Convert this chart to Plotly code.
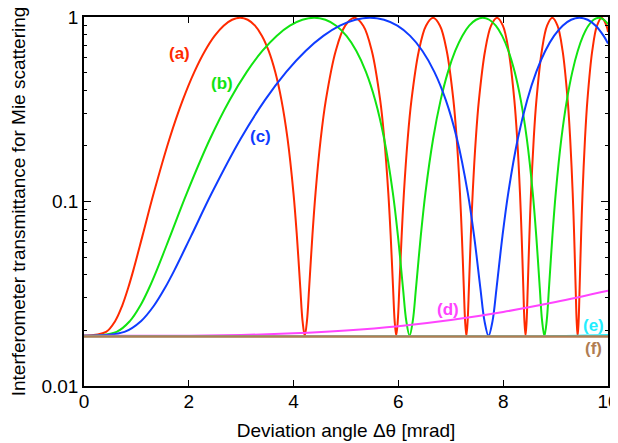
import math
import plotly.graph_objects as go

# ---------------- data ----------------
red_x = [0, 0.4213, 0.5958, 0.7297, 0.8426, 0.9421, 1.1147, 1.3323, 1.6317, 1.8841, 2.1065, 2.3076, 2.4925, 2.6646,
         2.8262, 2.9791, 3.1245, 3.2634, 3.3967, 3.5249, 3.6486, 3.7683, 3.8843, 3.9969, 4.0630, 4.1280, 4.1707,
         4.2131, 4.2550, 4.2965, 4.3580, 4.4187, 4.5180, 4.6152, 4.8036, 4.9850, 5.1599, 5.3292, 5.4932, 5.6524,
         5.7304, 5.8073, 5.8530, 5.8983, 5.9283,
         5.9582, 5.9879, 6.0175, 6.0616, 6.1053, 6.1776, 6.2490, 6.3895, 6.5269, 6.6615, 6.7934, 6.9228, 7.0498,
         7.1125, 7.1746, 7.2116, 7.2484, 7.2729,
         7.2973, 7.3216, 7.3457, 7.3819, 7.4179, 7.4775, 7.5366, 7.6534, 7.7685, 7.8819, 7.9937, 8.1040, 8.2128,
         8.2667, 8.3201, 8.3521, 8.3839, 8.4050,
         8.4261, 8.4472, 8.4682, 8.4996, 8.5308, 8.5827, 8.6342, 8.7364, 8.8374, 8.9373, 9.0360, 9.1337, 9.2304,
         9.2783, 9.3260, 9.3545, 9.3829, 9.4018,
         9.4207, 9.4395, 9.4583, 9.4864, 9.5144, 9.5610, 9.6073, 9.6992, 9.7903, 9.8805, 9.9700, 10.0]
red_y = [0.0187, 0.01966, 0.02253, 0.0273, 0.03396, 0.04247, 0.06492, 0.11145, 0.21889, 0.35428, 0.50435, 0.65442,
         0.7898, 0.89725, 0.96623, 0.99, 0.96623, 0.89725, 0.7898, 0.65442, 0.50435, 0.35428, 0.21889, 0.11145,
         0.06492, 0.03396, 0.02253,
         0.0187, 0.02253, 0.03396, 0.06492, 0.11145, 0.21889, 0.35428, 0.65442, 0.89725, 0.99, 0.89725, 0.65442,
         0.35428, 0.21889, 0.11145, 0.06492, 0.03396, 0.02253,
         0.0187, 0.02253, 0.03396, 0.06492, 0.11145, 0.21889, 0.35428, 0.65442, 0.89725, 0.99, 0.89725, 0.65442,
         0.35428, 0.21889, 0.11145, 0.06492, 0.03396, 0.02253,
         0.0187, 0.02253, 0.03396, 0.06492, 0.11145, 0.21889, 0.35428, 0.65442, 0.89725, 0.99, 0.89725, 0.65442,
         0.35428, 0.21889, 0.11145, 0.06492, 0.03396, 0.02253,
         0.0187, 0.02253, 0.03396, 0.06492, 0.11145, 0.21889, 0.35428, 0.65442, 0.89725, 0.99, 0.89725, 0.65442,
         0.35428, 0.21889, 0.11145, 0.06492, 0.03396, 0.02253,
         0.0187, 0.02253, 0.03396, 0.06492, 0.11145, 0.21889, 0.35428, 0.65442, 0.89725, 0.99, 0.89725, 0.8282]

green_x = [0, 0.6213, 0.8786, 1.0761, 1.2426, 1.3892, 1.6438, 1.9647, 2.4062, 2.7785, 3.1064, 3.4029, 3.6756, 3.9294,
           4.1677, 4.3932, 4.6076, 4.8125, 5.0090, 5.1981, 5.3805, 5.5570, 5.7280, 5.8941, 5.9915, 6.0874, 6.1504,
           6.2129, 6.2747, 6.3359, 6.4267, 6.5161, 6.6626, 6.8059, 6.9462, 7.0838, 7.2187, 7.3512, 7.4813, 7.6092,
           7.7350, 7.8588, 7.9806, 8.1006, 8.2189, 8.3355, 8.4504, 8.5639, 8.6312, 8.6980, 8.7423,
           8.7864, 8.8302, 8.8738, 8.9388, 9.0033, 9.1099, 9.2152, 9.3193, 9.4223, 9.5242, 9.6250, 9.7247, 9.8234,
           9.9212, 10.0]
green_y = [0.0187, 0.01966, 0.02253, 0.0273, 0.03396, 0.04247, 0.06492, 0.11145, 0.21889, 0.35428, 0.50435, 0.65442,
           0.7898, 0.89725, 0.96623, 0.99, 0.96623, 0.89725, 0.7898, 0.65442, 0.50435, 0.35428, 0.21889, 0.11145,
           0.06492, 0.03396, 0.02253,
           0.0187, 0.02253, 0.03396, 0.06492, 0.11145, 0.21889, 0.35428, 0.50435, 0.65442, 0.7898, 0.89725, 0.96623,
           0.99, 0.96623, 0.89725, 0.7898, 0.65442, 0.50435, 0.35428, 0.21889, 0.11145, 0.06492, 0.03396, 0.02253,
           0.0187, 0.02253, 0.03396, 0.06492, 0.11145, 0.21889, 0.35428, 0.50435, 0.65442, 0.7898, 0.89725, 0.96623,
           0.99, 0.96623, 0.9133]

blue_x = [0, 0.7720, 1.0918, 1.3372, 1.5440, 1.7263, 2.0426, 2.4413, 2.9900, 3.4525, 3.8601, 4.2285, 4.5673, 4.8826,
          5.1788, 5.4589, 5.7254, 5.9800, 6.2241, 6.4591, 6.6858, 6.9051, 7.1176, 7.3239, 7.4450, 7.5641, 7.6425,
          7.7201, 7.7969, 7.8730, 7.9857, 8.0969, 8.2789, 8.4570, 8.6313, 8.8023, 8.9700, 9.1346, 9.2962, 9.4551,
          9.6115, 9.7653, 9.9167, 10.0]
blue_y = [0.0187, 0.01966, 0.02253, 0.0273, 0.03396, 0.04247, 0.06492, 0.11145, 0.21889, 0.35428, 0.50435, 0.65442,
          0.7898, 0.89725, 0.96623, 0.99, 0.96623, 0.89725, 0.7898, 0.65442, 0.50435, 0.35428, 0.21889, 0.11145,
          0.06492, 0.03396, 0.02253,
          0.0187, 0.02253, 0.03396, 0.06492, 0.11145, 0.21889, 0.35428, 0.50435, 0.65442, 0.7898, 0.89725, 0.96623,
          0.99, 0.96623, 0.89725, 0.7898, 0.7174]

magenta_x = [0, 1, 2, 3, 4, 5, 6, 7, 8, 9, 10]
magenta_y = [0.0187, 0.0187, 0.01874, 0.0189, 0.0193, 0.0200, 0.0211, 0.0228, 0.0252, 0.0285, 0.0328]

cyan_x = [0, 2, 4, 6, 8, 9, 10]
cyan_y = [0.0186, 0.0186, 0.0186, 0.0186, 0.0186, 0.01866, 0.0189]

brown_x = [0, 10]
brown_y = [0.01855, 0.01855]

labels = ["(a)", "(b)", "(c)", "(d)", "(e)", "(f)"]
label_x = [1.83, 2.63, 3.37, 6.94, 9.73, 9.73]
label_y = [0.638, 0.4355, 0.2238, 0.02595, 0.02125, 0.01595]

x_ticks = [0, 2, 4, 6, 8, 10]
y_ticks = [0.01, 0.1, 1]
y_ticktext = ["0.01", "0.1", "1"]
y_minor = [0.02, 0.03, 0.04, 0.05, 0.06, 0.07, 0.08, 0.09, 0.2, 0.3, 0.4, 0.5, 0.6, 0.7, 0.8, 0.9]

# ---------------- styles ----------------
RED = "#ff2a00"
GREEN = "#11e411"
BLUE = "#0f3cff"
MAGENTA = "#ff44ff"
CYAN = "#22eeff"
BROWN = "#b07d52"
colors = [RED, GREEN, BLUE, MAGENTA, CYAN, BROWN]

fig = go.Figure()
series = [
    (red_x, red_y, RED, 2, "spline"),
    (green_x, green_y, GREEN, 2, "spline"),
    (blue_x, blue_y, BLUE, 2, "spline"),
    (magenta_x, magenta_y, MAGENTA, 2, "spline"),
    (cyan_x, cyan_y, CYAN, 2, "spline"),
    (brown_x, brown_y, BROWN, 2.5, "linear"),
]
for xs, ys, c, w, shp in series:
    fig.add_trace(go.Scatter(x=xs, y=ys, mode="lines",
                             line=dict(color=c, width=w, shape=shp, smoothing=1 if shp == "spline" else None),
                             hoverinfo="skip", showlegend=False))

for t, lx, ly, c in zip(labels, label_x, label_y, colors):
    fig.add_annotation(x=lx, y=math.log10(ly), text="<b>%s</b>" % t, showarrow=False,
                       font=dict(size=17, color=c, family="Liberation Sans, Arial, sans-serif"))

FONT = "Liberation Sans, Arial, Helvetica, sans-serif"
# the page body has an 8px margin, so the figure is drawn 8px in from the window edges
fig.update_layout(
    width=610, height=435,
    margin=dict(l=76, r=10, t=9, b=57, autoexpand=False),
    plot_bgcolor="white", paper_bgcolor="white",
    showlegend=False,
    font=dict(family=FONT, size=19, color="black"),
    xaxis=dict(
        range=[0, 10], tickvals=x_ticks, ticks="inside", ticklen=6, tickwidth=1, tickcolor="black",
        showline=True, linecolor="black", linewidth=1.5, mirror="ticks",
        showgrid=False, zeroline=False, automargin=False, ticklabeloverflow="allow",
        ticklabelstandoff=-3,
        tickfont=dict(size=19, family=FONT, color="black"),
        title=dict(text="Deviation angle Δθ [mrad]", font=dict(size=19, family=FONT, color="black"), standoff=13),
    ),
    yaxis=dict(
        type="log", range=[-2, 0], tickvals=y_ticks, ticktext=y_ticktext,
        ticks="inside", ticklen=7, tickwidth=1, tickcolor="black",
        minor=dict(tickvals=y_minor, ticks="inside", ticklen=3.5, tickwidth=1, tickcolor="black", showgrid=False),
        showline=True, linecolor="black", linewidth=1.5, mirror="ticks",
        showgrid=False, zeroline=False, automargin=False, ticklabeloverflow="allow",
        tickfont=dict(size=19, family=FONT, color="black"),
        title=dict(text="Interferometer transmittance for Mie scattering", font=dict(size=19, family=FONT, color="black"),
                   standoff=11),
    ),
)

fig.write_html("out.html")
